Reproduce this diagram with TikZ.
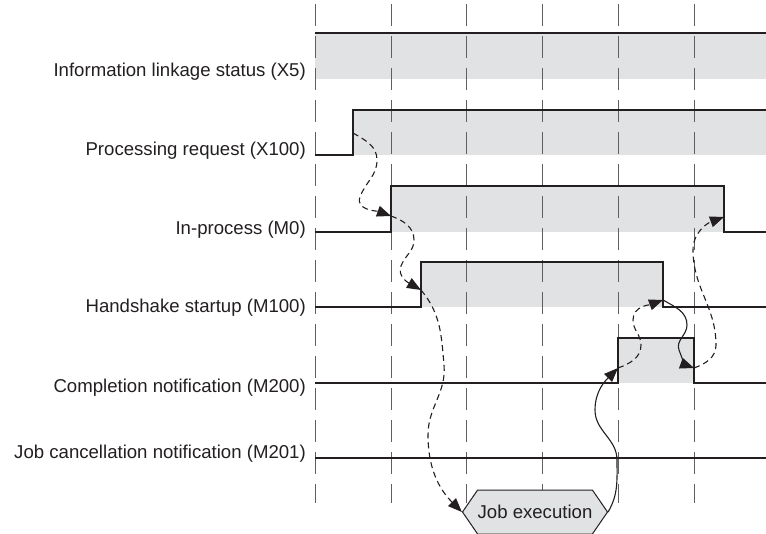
\documentclass[tikz,border=0pt]{standalone}
\usepackage{fontspec}
\setmainfont{Liberation Sans}
\usetikzlibrary{shapes.symbols,arrows.meta}
\definecolor{bandfill}{RGB}{225,226,228}
\definecolor{ink}{RGB}{35,31,32}
\definecolor{gridc}{RGB}{95,95,95}
\begin{document}
\begin{tikzpicture}[x=1pt,y=-1pt,
  lbl/.style={anchor=base east, inner sep=0pt, font=\fontsize{18.6pt}{22pt}\selectfont, text=ink},
  sig/.style={draw=ink, line width=1.2pt},
  gridline/.style={draw=gridc, line width=1pt, dash pattern=on 22pt off 10pt},
  flowd/.style={draw=ink, line width=1.1pt, dash pattern=on 6pt off 4pt, -{Triangle[length=14pt,width=11pt]}},
  flows/.style={draw=ink, line width=1.1pt, -{Triangle[length=14pt,width=11pt]}},
  jobbox/.style={signal, signal to=west and east, signal pointer angle=111, minimum width=136pt, minimum height=44pt, inner sep=0pt, fill=bandfill, draw=ink, line width=1pt, font=\fontsize{18.6pt}{22pt}\selectfont, text=ink}
]
\useasboundingbox (0,0) rectangle (766,533);
% bands
\fill[bandfill] (315,33) rectangle (766,79);
\fill[bandfill] (353,110) rectangle (766,155);
\fill[bandfill] (391,186) rectangle (724,232);
\fill[bandfill] (421,262) rectangle (663,307);
\fill[bandfill] (618,338) rectangle (694,383);
% grid
\foreach \gx in {315,391,466,542,618,694} \draw[gridline] (\gx,4) -- (\gx,503);
% signals
\draw[sig] (315,33) -- (766,33);
\draw[sig] (315,155) -- (353,155) -- (353,110) -- (766,110);
\draw[sig] (315,232) -- (391,232) -- (391,186) -- (724,186) -- (724,232) -- (766,232);
\draw[sig] (315,307) -- (421,307) -- (421,262) -- (663,262) -- (663,307) -- (766,307);
\draw[sig] (315,383) -- (618,383) -- (618,338) -- (694,338) -- (694,383) -- (766,383);
\draw[sig] (315,458) -- (766,458);
% labels
\node[lbl] (lx5) at (306,76) {Information linkage status (X5)};
\node[lbl] (lx100) at (306,155) {Processing request (X100)};
\node[lbl] (lm0) at (306,234) {In-process (M0)};
\node[lbl] (lm100) at (306,312.5) {Handshake startup (M100)};
\node[lbl] (lm200) at (306,392) {Completion notification (M200)};
\node[lbl] (lm201) at (306,458) {Job cancellation notification (M201)};
% job
\node[jobbox] (job) at (535,512) {Job execution};
% edge points
\coordinate (x100r) at (353,133);
\coordinate (m0r) at (391,216);
\coordinate (m100r) at (421,290);
\coordinate (m200r) at (618,368);
\coordinate (m100f) at (663,300);
\coordinate (m200f) at (694,368);
\coordinate (m0f) at (724,217);
% flows
\draw[flowd] (x100r) to[out=-30,in=90] (377,160) to[out=-90,in=70] (360,197) to[out=-110,in=160] (m0r);
\draw[flowd] (m0r) to[out=-20,in=90] (414,240) to[out=-90,in=70] (401,266) to[out=-110,in=150] (m100r);
\draw[flowd] (m100r) to[out=-50,in=95] (444,365) to[out=-85,in=90] (428,435) to[out=-90,in=135] (job.west);
\draw[flows] (job.east) to[out=60,in=-90] (617,460) to[out=90,in=-90] (595,410) to[out=90,in=-135] (m200r);
\draw[flowd] (m200r) to[out=20,in=-90] (641,345) to[out=90,in=-90] (633,320) to[out=90,in=-160] (m100f);
\draw[flows] (m100f) to[out=-30,in=90] (687,325) to[out=-90,in=110] (679,350) to[out=-70,in=160] (m200f);
\draw[flowd] (m200f) to[out=20,in=-90] (716,345) to[out=90,in=-90] (693,250) to[out=90,in=-160] (m0f);
\end{tikzpicture}
\end{document}
